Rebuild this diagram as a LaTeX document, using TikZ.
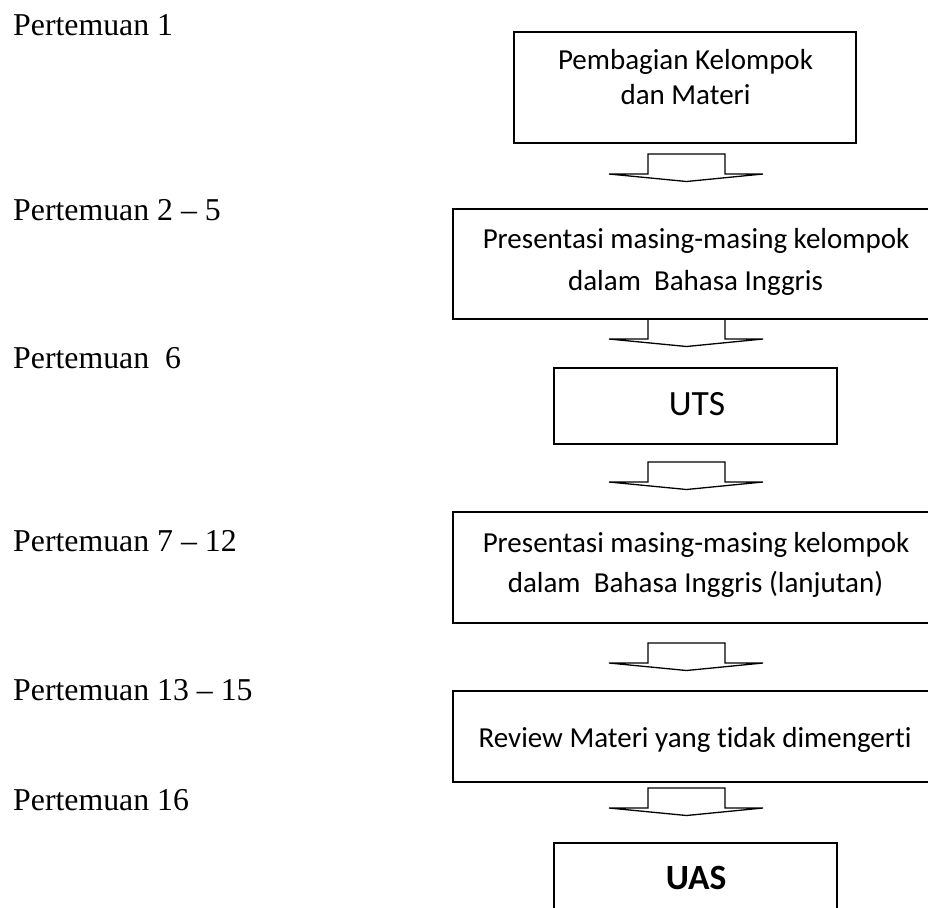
\documentclass[tikz,border=0pt]{standalone}
\usepackage{fontspec}
\setmainfont{Liberation Serif}
\newfontfamily\boxfont[Ligatures=NoCommon]{Carlito}
\tikzset{
  lbl/.style={anchor=base west, inner sep=0pt, font=\fontsize{31.8}{38}\selectfont},
  btxt/.style={anchor=base, inner sep=0pt, font=\boxfont\fontsize{29}{35}\selectfont},
  bigtxt/.style={anchor=base, inner sep=0pt, font=\boxfont\fontsize{35.5}{42}\selectfont},
  boxline/.style={draw=black, line width=2pt},
  blockarrow/.style={draw=black, line width=1.3pt, line join=miter},
}
\newcommand{\myblockarrow}[1]{%
  \draw[blockarrow] (648,#1) -- (725,#1) -- (725,#1+20) -- (763,#1+20)
    -- (686.5,#1+27.5) -- (609,#1+20) -- (648,#1+20) -- cycle;}
\begin{document}
\begin{tikzpicture}[x=1pt,y=-1pt]
\useasboundingbox (0,0) rectangle (928,907);
\clip (0,0) rectangle (928,907);
\fill[white] (0,0) rectangle (928,907);

% left labels
\node[lbl] (p1)  at (13,36)  {Pertemuan 1};
\node[lbl] (p2)  at (13,220) {Pertemuan 2 -- 5};
\node[lbl] (p6)  at (13,368) {Pertemuan\ \ 6};
\node[lbl] (p7)  at (13,551) {Pertemuan 7 -- 12};
\node[lbl] (p13) at (13,700) {Pertemuan 13 -- 15};
\node[lbl] (p16) at (13,810) {Pertemuan 16};

% boxes
\draw[boxline] (514,32) rectangle (856,143);
\draw[boxline] (940,209) -- (453,209) -- (453,319) -- (940,319);
\draw[boxline] (554,368) rectangle (837,444);
\draw[boxline] (940,512) -- (453,512) -- (453,623) -- (940,623);
\draw[boxline] (940,691) -- (453,691) -- (453,782) -- (940,782);
\draw[boxline] (554,920) -- (554,843) -- (837,843) -- (837,920);

% box texts
\node[btxt] (t1a) at (685.5,69)  {Pembagian Kelompok};
\node[btxt] (t1b) at (685.5,104) {dan Materi};
\node[btxt] (t2a) at (696,248)   {Presentasi masing-masing kelompok};
\node[btxt] (t2b) at (695.5,290) {dalam\ \ Bahasa Inggris};
\node[bigtxt] (t3) at (697,415)  {UTS};
\node[btxt] (t4a) at (696,552)   {Presentasi masing-masing kelompok};
\node[btxt] (t4b) at (695.5,592) {dalam\ \ Bahasa Inggris (lanjutan)};
\node[btxt] (t5) at (695,747)    {Review Materi yang tidak dimengerti};
\node[bigtxt,font=\boxfont\bfseries\fontsize{35.5}{42}\selectfont] (t6) at (696,889) {UAS};

% block arrows
\myblockarrow{154}
\myblockarrow{319}
\myblockarrow{462}
\myblockarrow{643}
\myblockarrow{788}
\end{tikzpicture}
\end{document}
